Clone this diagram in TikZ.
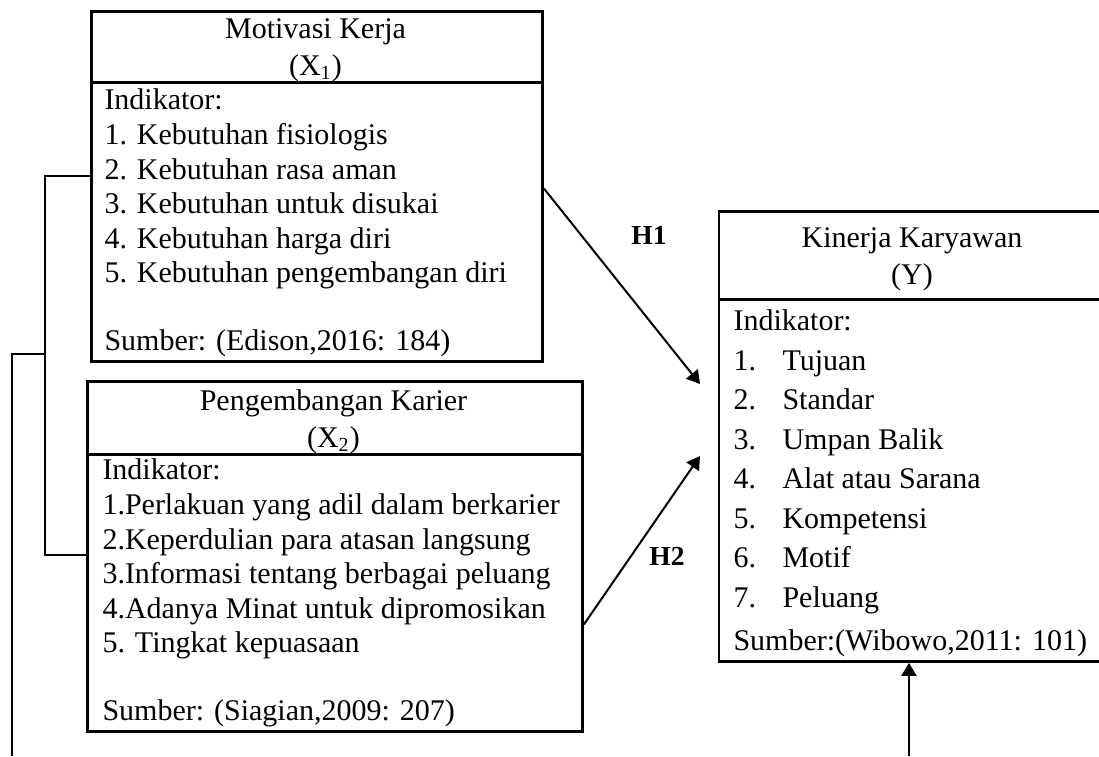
\documentclass[tikz,border=0pt]{standalone}
\usepackage{fontspec}
\setmainfont{Liberation Serif}
\usetikzlibrary{arrows.meta}
\tikzset{
    frame/.style 2 args={draw, line width=1.15pt, inner sep=0pt,
    	minimum width=#1, minimum height=#2, anchor=north west}
}
\tikzset{
    title/.style={inner sep=0pt, anchor=base, align=center,
    	font=\fontsize{12pt}{14.7pt}\selectfont},
    list/.style={inner sep=0pt, anchor=base west, align=left,
    	font=\fontsize{12pt}{13.84pt}\selectfont},
    hyp/.style={inner sep=0pt, anchor=base,
    	font=\bfseries\fontsize{11pt}{13pt}\selectfont}
}
\tikzset{
	arrow/.style={line width=0.8pt, -{Triangle[length=5.2pt,width=6pt]}},
	link/.style={line width=0.7pt}
}
\newcommand{\num}[1]{\makebox[19.6pt][l]{#1}}

\begin{document}
\begin{tikzpicture}[x=0.4pt, y=-0.4pt]
	\useasboundingbox (0,0) rectangle (1099,756);
	\clip (0,0) rectangle (1099,756);

	\node (mkh) [frame={180.4pt}{28.4pt}] at (90,10) {};
	\node (mk) [frame={180.4pt}{111.6pt}] at (90,81) {};
	\node (pkh) [frame={198pt}{29.2pt}] at (86,380) {};
	\node (pk) [frame={198pt}{110.8pt}] at (86,453) {};
	\node (kkh) [frame={155.8pt}{35.2pt}] at (717.5,210) {};
	\node (kk) [frame={155.8pt}{144.8pt}] at (717.5,298) {};

	% anchors sit on the last baseline
	\node (mkt) [title] at (315.5,75) {Motivasi Kerja\\(X\textsubscript{1})};
	\node (pkt) [title] at (333.5,447) {Pengembangan Karier\\(X\textsubscript{2})};
	\node (kkt) [title] at (912,284) {Kinerja Karyawan\\(Y)};

	\node (mki) [list] at (104,350) {Indikator:\\
		1. Kebutuhan fisiologis\\
		2. Kebutuhan rasa aman\\
		3. Kebutuhan untuk disukai\\
		4. Kebutuhan harga diri\\
		5. Kebutuhan pengembangan diri\\[13pt]
		Sumber: (Edison,2016: 184)};
	\node (pki) [list] at (102,720) {Indikator:\\
		1.Perlakuan yang adil dalam berkarier\\
		2.Keperdulian para atasan langsung\\
		3.Informasi tentang berbagai peluang\\
		4.Adanya Minat untuk dipromosikan\\
		5. Tingkat kepuasaan\\[13pt]
		Sumber: (Siagian,2009: 207)};
	\node (kki) [list, font=\fontsize{12pt}{15.8pt}\selectfont] at (733,650) {Indikator:\\[0.2pt]
		\num{1.}Tujuan\\
		\num{2.}Standar\\
		\num{3.}Umpan Balik\\
		\num{4.}Alat atau Sarana\\
		\num{5.}Kompetensi\\
		\num{6.}Motif\\
		\num{7.}Peluang\\[1.4pt]
		Sumber:(Wibowo,2011: 101)};

	\node (h1) [hyp] at (649,244) {H1};
	\node (h2) [hyp] at (667,565) {H2};

	\coordinate (h1end) at (700,384);
	\coordinate (h2end) at (700,456);
	\coordinate (ybot) at (909,756);
	\coordinate (b1) at (45,176);
	\coordinate (b2) at (45,555);
	\coordinate (b3) at (45,354);
	\coordinate (b4) at (12,354);
	\coordinate (b5) at (12,756);

	\draw[arrow] ([yshift=13.4pt]mk.east) -- (h1end);
	\draw[arrow] ([yshift=-12.6pt]pk.east) -- (h2end);
	\draw[arrow] (ybot) -- (ybot |- kk.south);

	\draw[link] (mk.west |- b1) -- (b1) -- (b2) -- (pk.west |- b2);
	\draw[link] (b3) -- (b4) -- (b5);
\end{tikzpicture}
\end{document}
